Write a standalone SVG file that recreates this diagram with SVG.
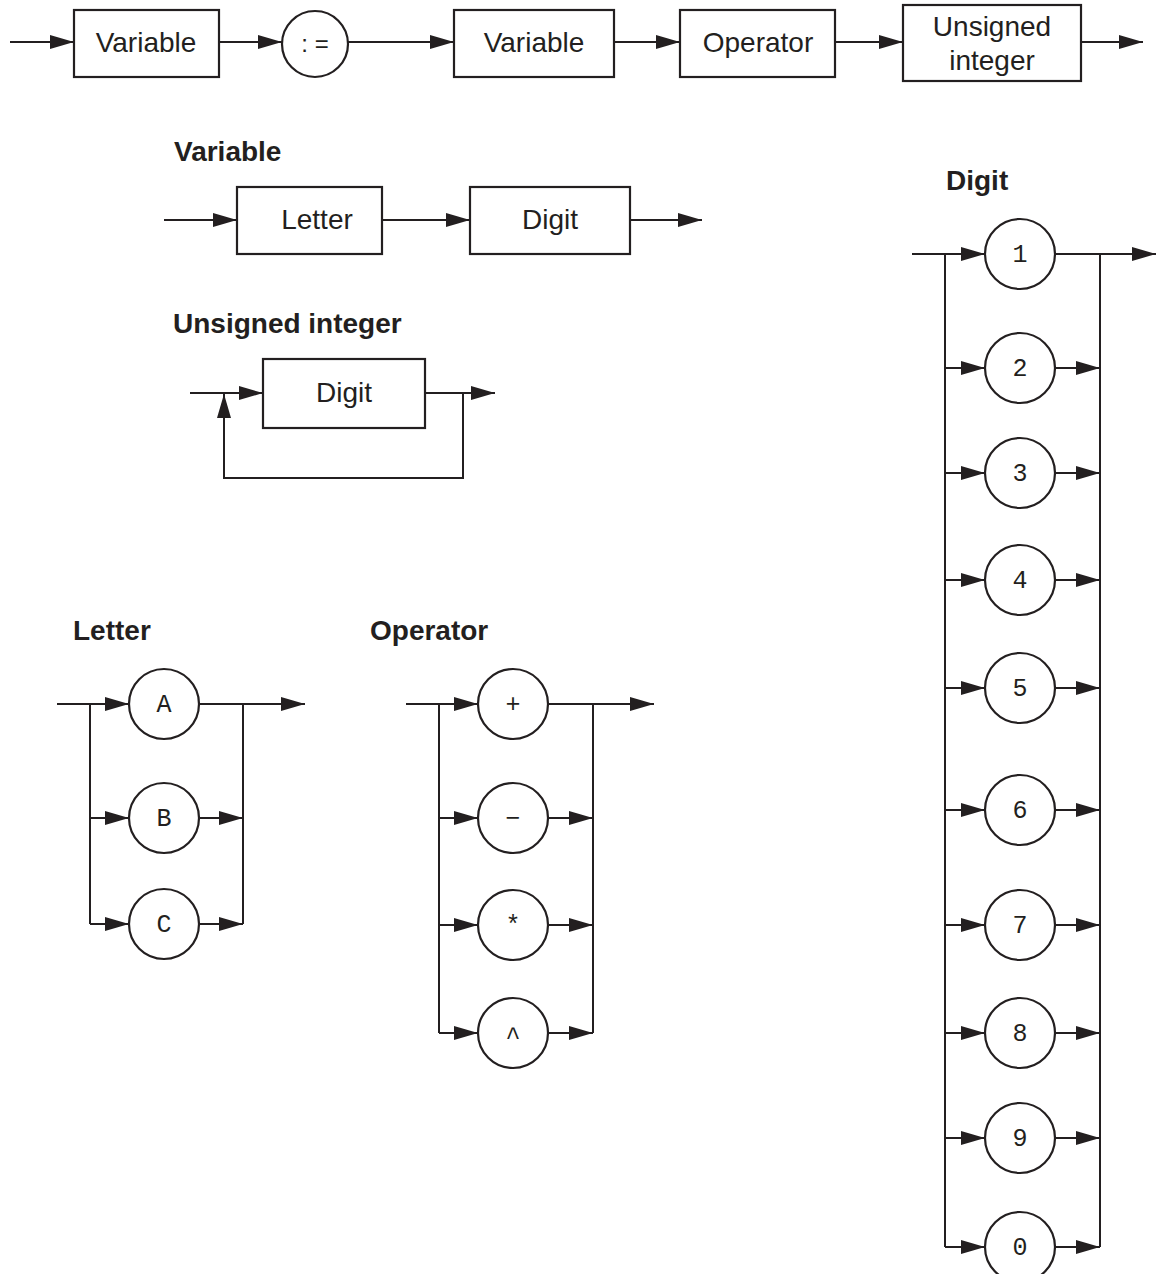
<svg xmlns="http://www.w3.org/2000/svg" width="1156" height="1274" viewBox="0 0 1156 1274">
<defs>
<marker id="ah" viewBox="0 0 24 14" refX="24" refY="7" markerWidth="24" markerHeight="14" orient="auto" markerUnits="userSpaceOnUse"><path d="M0,0 L24,7 L0,14 Z" fill="#231f20"/></marker>
<style>
.b{fill:#fff;stroke:#231f20;stroke-width:2.2}
.l{fill:none;stroke:#231f20;stroke-width:2}
.a{fill:none;stroke:#231f20;stroke-width:2;marker-end:url(#ah)}
.t{font-family:"Liberation Sans",Arial,sans-serif;font-size:28px;fill:#231f20;text-anchor:middle}
.h{font-family:"Liberation Sans",Arial,sans-serif;font-size:28px;font-weight:bold;fill:#231f20}
.m{font-family:"Liberation Mono","Courier New",monospace;font-size:25px;fill:#231f20;text-anchor:middle}
</style>
</defs>
<rect width="1156" height="1274" fill="#fff"/>
<g id="connectors">
<path class="a" d="M10,42 H74"/>
<path class="a" d="M219,42 H282"/>
<path class="a" d="M348,42 H454"/>
<path class="a" d="M614,42 H680"/>
<path class="a" d="M835,42 H903"/>
<path class="a" d="M1081,42 H1143"/>
<path class="a" d="M164,220 H237"/>
<path class="a" d="M382,220 H470"/>
<path class="a" d="M630,220 H702"/>
<path class="a" d="M190,393 H263"/>
<path class="a" d="M425,393 H495"/>
<path class="a" d="M463,393 V478 H224 V394"/>
<path class="a" d="M57,704 H129"/>
<path class="l" d="M90,704 V924"/>
<path class="a" d="M90,818 H129"/>
<path class="a" d="M90,924 H129"/>
<path class="a" d="M199,704 H305"/>
<path class="a" d="M199,818 H243"/>
<path class="a" d="M199,924 H243"/>
<path class="l" d="M243,704 V924"/>
<path class="a" d="M406,704 H478"/>
<path class="l" d="M439,704 V1033"/>
<path class="a" d="M439,818 H478"/>
<path class="a" d="M439,925 H478"/>
<path class="a" d="M439,1033 H478"/>
<path class="a" d="M548,704 H654"/>
<path class="a" d="M548,818 H593"/>
<path class="a" d="M548,925 H593"/>
<path class="a" d="M548,1033 H593"/>
<path class="l" d="M593,704 V1033"/>
<path class="a" d="M912,254 H985"/>
<path class="l" d="M945,254 V1247"/>
<path class="a" d="M945,368 H985"/>
<path class="a" d="M945,473 H985"/>
<path class="a" d="M945,580 H985"/>
<path class="a" d="M945,688 H985"/>
<path class="a" d="M945,810 H985"/>
<path class="a" d="M945,925 H985"/>
<path class="a" d="M945,1033 H985"/>
<path class="a" d="M945,1138 H985"/>
<path class="a" d="M945,1247 H985"/>
<path class="a" d="M1055,254 H1156"/>
<path class="a" d="M1055,368 H1100"/>
<path class="a" d="M1055,473 H1100"/>
<path class="a" d="M1055,580 H1100"/>
<path class="a" d="M1055,688 H1100"/>
<path class="a" d="M1055,810 H1100"/>
<path class="a" d="M1055,925 H1100"/>
<path class="a" d="M1055,1033 H1100"/>
<path class="a" d="M1055,1138 H1100"/>
<path class="a" d="M1055,1247 H1100"/>
<path class="l" d="M1100,254 V1247"/>
</g>
<g id="top-variable1"><rect class="b" x="74" y="10" width="145" height="67"/><text class="t" x="146" y="52">Variable</text></g>
<g id="top-assign"><circle class="b" cx="315" cy="44" r="33"/><text class="t" x="315" y="52" style="font-size:24px">: =</text></g>
<g id="top-variable2"><rect class="b" x="454" y="10" width="160" height="67"/><text class="t" x="534" y="52">Variable</text></g>
<g id="top-operator"><rect class="b" x="680" y="10" width="155" height="67"/><text class="t" x="758" y="52">Operator</text></g>
<g id="top-unsigned"><rect class="b" x="903" y="5" width="178" height="76"/><text class="t" x="992" y="36">Unsigned</text><text class="t" x="992" y="70">integer</text></g>
<g id="title-variable"><text class="h" x="174" y="161">Variable</text></g>
<g id="var-letter"><rect class="b" x="237" y="187" width="145" height="67"/><text class="t" x="317" y="229">Letter</text></g>
<g id="var-digit"><rect class="b" x="470" y="187" width="160" height="67"/><text class="t" x="550" y="229">Digit</text></g>
<g id="title-unsigned"><text class="h" x="173" y="333">Unsigned integer</text></g>
<g id="ui-digit"><rect class="b" x="263" y="359" width="162" height="69"/><text class="t" x="344" y="402">Digit</text></g>
<g id="title-letter"><text class="h" x="73" y="640">Letter</text></g>
<g id="letter-A"><circle class="b" cx="164" cy="704" r="35"/><text class="m" x="164" y="712">A</text></g>
<g id="letter-B"><circle class="b" cx="164" cy="818" r="35"/><text class="m" x="164" y="826">B</text></g>
<g id="letter-C"><circle class="b" cx="164" cy="924" r="35"/><text class="m" x="164" y="932">C</text></g>
<g id="title-operator"><text class="h" x="370" y="640">Operator</text></g>
<g id="op-plus"><circle class="b" cx="513" cy="704" r="35"/><text class="m" x="513" y="712">+</text></g>
<g id="op-minus"><circle class="b" cx="513" cy="818" r="35"/><text class="m" x="513" y="826">−</text></g>
<g id="op-times"><circle class="b" cx="513" cy="925" r="35"/><text class="m" x="513" y="933">*</text></g>
<g id="op-power"><circle class="b" cx="513" cy="1033" r="35"/><text class="m" x="513" y="1045">^</text></g>
<g id="title-digit"><text class="h" x="946" y="190">Digit</text></g>
<g id="digit-1"><circle class="b" cx="1020" cy="254" r="35"/><text class="m" x="1020" y="262">1</text></g>
<g id="digit-2"><circle class="b" cx="1020" cy="368" r="35"/><text class="m" x="1020" y="376">2</text></g>
<g id="digit-3"><circle class="b" cx="1020" cy="473" r="35"/><text class="m" x="1020" y="481">3</text></g>
<g id="digit-4"><circle class="b" cx="1020" cy="580" r="35"/><text class="m" x="1020" y="588">4</text></g>
<g id="digit-5"><circle class="b" cx="1020" cy="688" r="35"/><text class="m" x="1020" y="696">5</text></g>
<g id="digit-6"><circle class="b" cx="1020" cy="810" r="35"/><text class="m" x="1020" y="818">6</text></g>
<g id="digit-7"><circle class="b" cx="1020" cy="925" r="35"/><text class="m" x="1020" y="933">7</text></g>
<g id="digit-8"><circle class="b" cx="1020" cy="1033" r="35"/><text class="m" x="1020" y="1041">8</text></g>
<g id="digit-9"><circle class="b" cx="1020" cy="1138" r="35"/><text class="m" x="1020" y="1146">9</text></g>
<g id="digit-0"><circle class="b" cx="1020" cy="1247" r="35"/><text class="m" x="1020" y="1255">0</text></g>
</svg>
